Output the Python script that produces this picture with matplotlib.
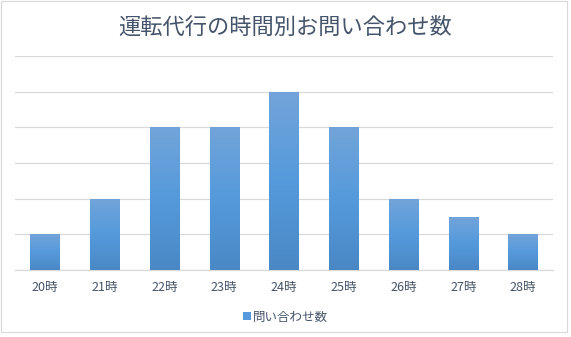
"""
Bar chart of inquiries to a designated-driver service by hour of the night.
"""

import matplotlib
matplotlib.use("Agg")
import matplotlib.pyplot as plt
import numpy as np
from matplotlib.colors import LinearSegmentedColormap
from matplotlib.patches import Rectangle

plt.rcParams['font.family'] = ['Noto Sans CJK JP', 'DejaVu Sans']

hours = ["20時", "21時", "22時", "23時", "24時", "25時", "26時", "27時", "28時"]
inquiries = [1, 2, 4, 4, 5, 4, 2, 1.5, 1]

title = "運転代行の時間別お問い合わせ数"
series_name = "問い合わせ数"

text_color = "#44546A"
grid_color = "#D9D9D9"
# light at the top of each bar, darker toward the base
bar_cmap = LinearSegmentedColormap.from_list(
    "bar_grad", ["#4A88C5", "#559ADC", "#72A4D9"])

fig = plt.figure(figsize=(5.71, 3.37), dpi=100)
fig.patches.append(Rectangle((1 / 571, 5 / 337), 566 / 571, 331 / 337,
                             transform=fig.transFigure, fill=False,
                             edgecolor=grid_color, linewidth=0.8))

ax = fig.add_axes([15 / 571, 67 / 337, 538 / 571, 214 / 337])

x = np.arange(len(hours))
bars = ax.bar(x, inquiries, width=0.49, color="none", edgecolor="none", zorder=3)

grad = np.linspace(0, 1, 256).reshape(-1, 1)
for b in bars:
    x0, w, h = b.get_x(), b.get_width(), b.get_height()
    im = ax.imshow(grad, cmap=bar_cmap, origin="lower", aspect="auto",
                   extent=(x0, x0 + w, 0, h), zorder=3)
    im.set_clip_path(b)

ax.set_xlim(-0.5, len(hours) - 0.5)
ax.set_ylim(0, 6)
ax.set_yticks(range(7))
ax.yaxis.grid(True, color=grid_color, linewidth=0.9)
ax.set_axisbelow(True)
ax.tick_params(axis="y", left=False, labelleft=False)
ax.tick_params(axis="x", length=0, pad=8, labelsize=9, labelcolor=text_color)
ax.set_xticks(x)
ax.set_xticklabels(hours)
for side in ("top", "right", "left"):
    ax.spines[side].set_visible(False)
ax.spines["bottom"].set_color(grid_color)
ax.spines["bottom"].set_linewidth(0.9)

fig.text(0.5, 1 - 27 / 337, title, ha="center", va="center",
         fontsize=16, color=text_color)

handle = Rectangle((0, 0), 1, 1, facecolor="#559ADC")
fig.legend([handle], [series_name], loc="center", bbox_to_anchor=(0.5, 1 - 317 / 337),
           frameon=False, fontsize=9, labelcolor=text_color,
           handlelength=0.6, handleheight=0.6, handletextpad=0.2)

fig.savefig("out.png", dpi=100)
